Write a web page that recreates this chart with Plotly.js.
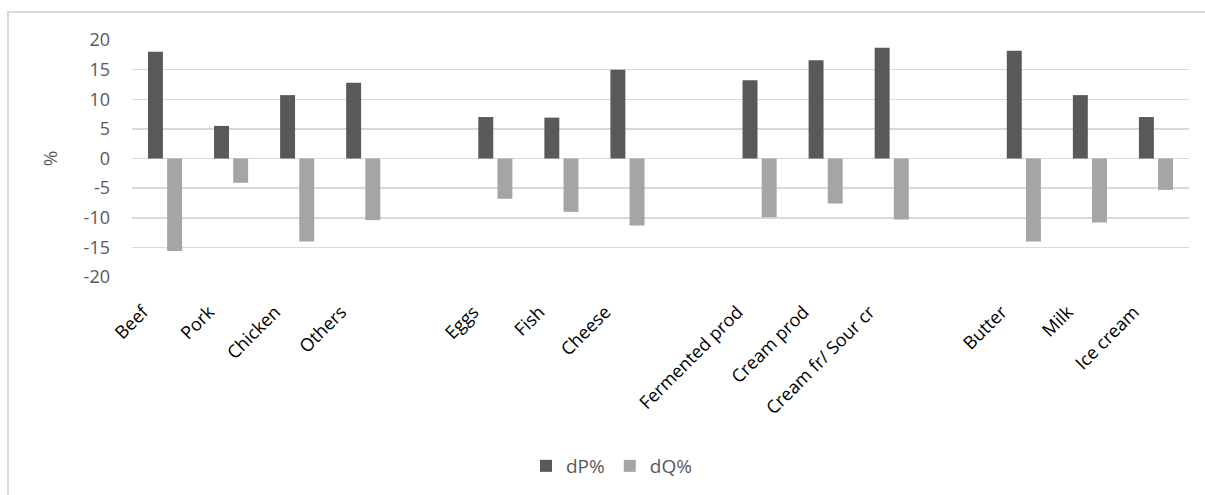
<!DOCTYPE html>
<html>
<head>
<meta charset="utf-8">
<script src="https://cdn.plot.ly/plotly-3.0.1.min.js"></script>
<style>
  html, body { margin: 0; padding: 0; background: #fff; }
  #wrap { position: relative; width: 1205px; height: 495px; overflow: hidden; }
  #chart { position: absolute; left: 0; top: 0; width: 1205px; height: 495px; }
  #frame { position: absolute; left: 7px; top: 11px; width: 1300px; height: 600px;
           border-left: 2px solid #D9D9D9; border-top: 2px solid #D9D9D9; pointer-events: none; }
</style>
</head>
<body>
<div id="wrap">
  <div id="chart"></div>
  <div id="frame"></div>
</div>
<script>
// Categories (blank entries are the empty gap slots between product groups)
const categories = ['Beef', 'Pork', 'Chicken', 'Others', ' ',
                    'Eggs', 'Fish', 'Cheese', '  ',
                    'Fermented prod', 'Cream prod', 'Cream fr/ Sour cr', '   ',
                    'Butter', 'Milk', 'Ice cream'];
const dP = [18.0, 5.5, 10.7, 12.8, null,
            7.0, 6.9, 15.0, null,
            13.2, 16.6, 18.7, null,
            18.2, 10.7, 7.0];
const dQ = [-15.6, -4.1, -14.0, -10.4, null,
            -6.8, -9.0, -11.3, null,
            -9.9, -7.6, -10.3, null,
            -14.0, -10.8, -5.3];
const seriesNames = ['dP%', 'dQ%'];
const yTicks = [-20, -15, -10, -5, 0, 5, 10, 15, 20];

const FONT = '"Open Sans", "Liberation Sans", sans-serif';

const traces = [
  { type: 'bar', name: seriesNames[0], x: categories, y: dP,
    marker: { color: '#595959' }, hoverinfo: 'skip' },
  { type: 'bar', name: seriesNames[1], x: categories, y: dQ,
    marker: { color: '#A5A5A5' }, hoverinfo: 'skip' }
];

const layout = {
  width: 1205, height: 495,
  margin: { l: 132, r: 16, t: 40, b: 218, pad: 0 },
  paper_bgcolor: 'rgba(0,0,0,0)',
  plot_bgcolor: 'rgba(0,0,0,0)',
  barmode: 'group',
  bargap: 0.42,
  bargroupgap: 0.22,
  font: { family: FONT, size: 18, color: '#595959' },
  xaxis: {
    type: 'category',
    categoryorder: 'array',
    categoryarray: categories,
    tickangle: -45,
    tickfont: { family: FONT, size: 18, color: '#000000' },
    showgrid: false, showline: false, zeroline: false,
    ticks: '', ticklen: 0,
    ticklabelshift: -22,
    ticklabelstandoff: 20,
    fixedrange: true
  },
  yaxis: {
    range: [-20, 20],
    tickvals: yTicks,
    ticktext: yTicks.map(String),
    tickfont: { family: FONT, size: 18, color: '#595959' },
    gridcolor: '#D9D9D9', gridwidth: 1.5,
    zeroline: true, zerolinecolor: '#D9D9D9', zerolinewidth: 1.5,
    showline: false, ticks: '',
    ticklabelstandoff: 21,
    title: { text: '%', font: { family: FONT, size: 19, color: '#595959' }, standoff: 20 },
    fixedrange: true
  },
  showlegend: true,
  legend: {
    orientation: 'h',
    x: 0.5 + 9 / 1205, xanchor: 'center', xref: 'container',
    yref: 'container', y: 1 - 466 / 495, yanchor: 'middle',
    font: { family: FONT, size: 19, color: '#595959' },
    itemwidth: 30, tracegroupgap: 0
  }
};

Plotly.newPlot('chart', traces, layout, { staticPlot: true, displayModeBar: false });
</script>
</body>
</html>
